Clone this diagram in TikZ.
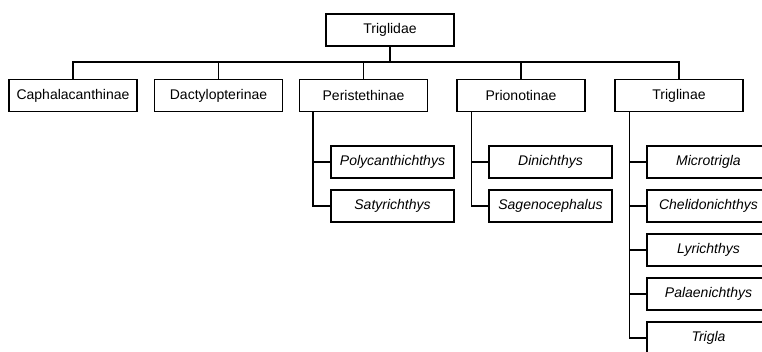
\documentclass[tikz,border=0pt]{standalone}
\usepackage{fontspec}
\setmainfont{Liberation Sans}
\begin{document}
\begin{tikzpicture}[x=1pt,y=-1pt,
  box/.style={draw, line width=1.3pt, minimum width=128pt, minimum height=32pt, inner sep=0pt, font=\fontsize{14}{16}\selectfont},
  genus/.style={draw, line width=1.3pt, minimum width=123pt, minimum height=32pt, inner sep=0pt, font=\fontsize{14}{16}\selectfont\itshape},
  conn/.style={line width=1.3pt}]
\useasboundingbox (0,0) rectangle (762,352);
\node[box] (root) at (390,30) {Triglidae};
\node[box] (cap) at (73,95.5) {Caphalacanthinae};
\node[box] (dac) at (218.5,95.5) {Dactylopterinae};
\node[box] (per) at (363.5,95.5) {Peristethinae};
\node[box] (pri) at (521,95.5) {Prionotinae};
\node[box] (tri) at (679,95.5) {Triglinae};
\coordinate (bar) at (390,62);
\foreach \n in {cap,dac,per,pri,tri}
  \draw[conn] (root.south) -- (bar) -| (\n.north);
\node[genus] (poly) at (392.5,162) {Polycanthichthys};
\node[genus] (saty) at (392.5,206) {Satyrichthys};
\node[genus] (dini) at (550.5,162) {Dinichthys};
\node[genus] (sage) at (550.5,206) {Sagenocephalus};
\node[genus] (micro) at (708.5,162) {Microtrigla};
\node[genus] (cheli) at (708.5,206) {Chelidonichthys};
\node[genus] (lyri) at (708.5,250) {Lyrichthys};
\node[genus] (pala) at (708.5,294) {Palaenichthys};
\node[genus] (trigla) at (708.5,338) {Trigla};
\foreach \n in {poly,saty}
  \draw[conn] ([xshift=14pt]per.south west) |- (\n.west);
\foreach \n in {dini,sage}
  \draw[conn] ([xshift=15pt]pri.south west) |- (\n.west);
\foreach \n in {micro,cheli,lyri,pala,trigla}
  \draw[conn] ([xshift=15pt]tri.south west) |- (\n.west);
\end{tikzpicture}
\end{document}
